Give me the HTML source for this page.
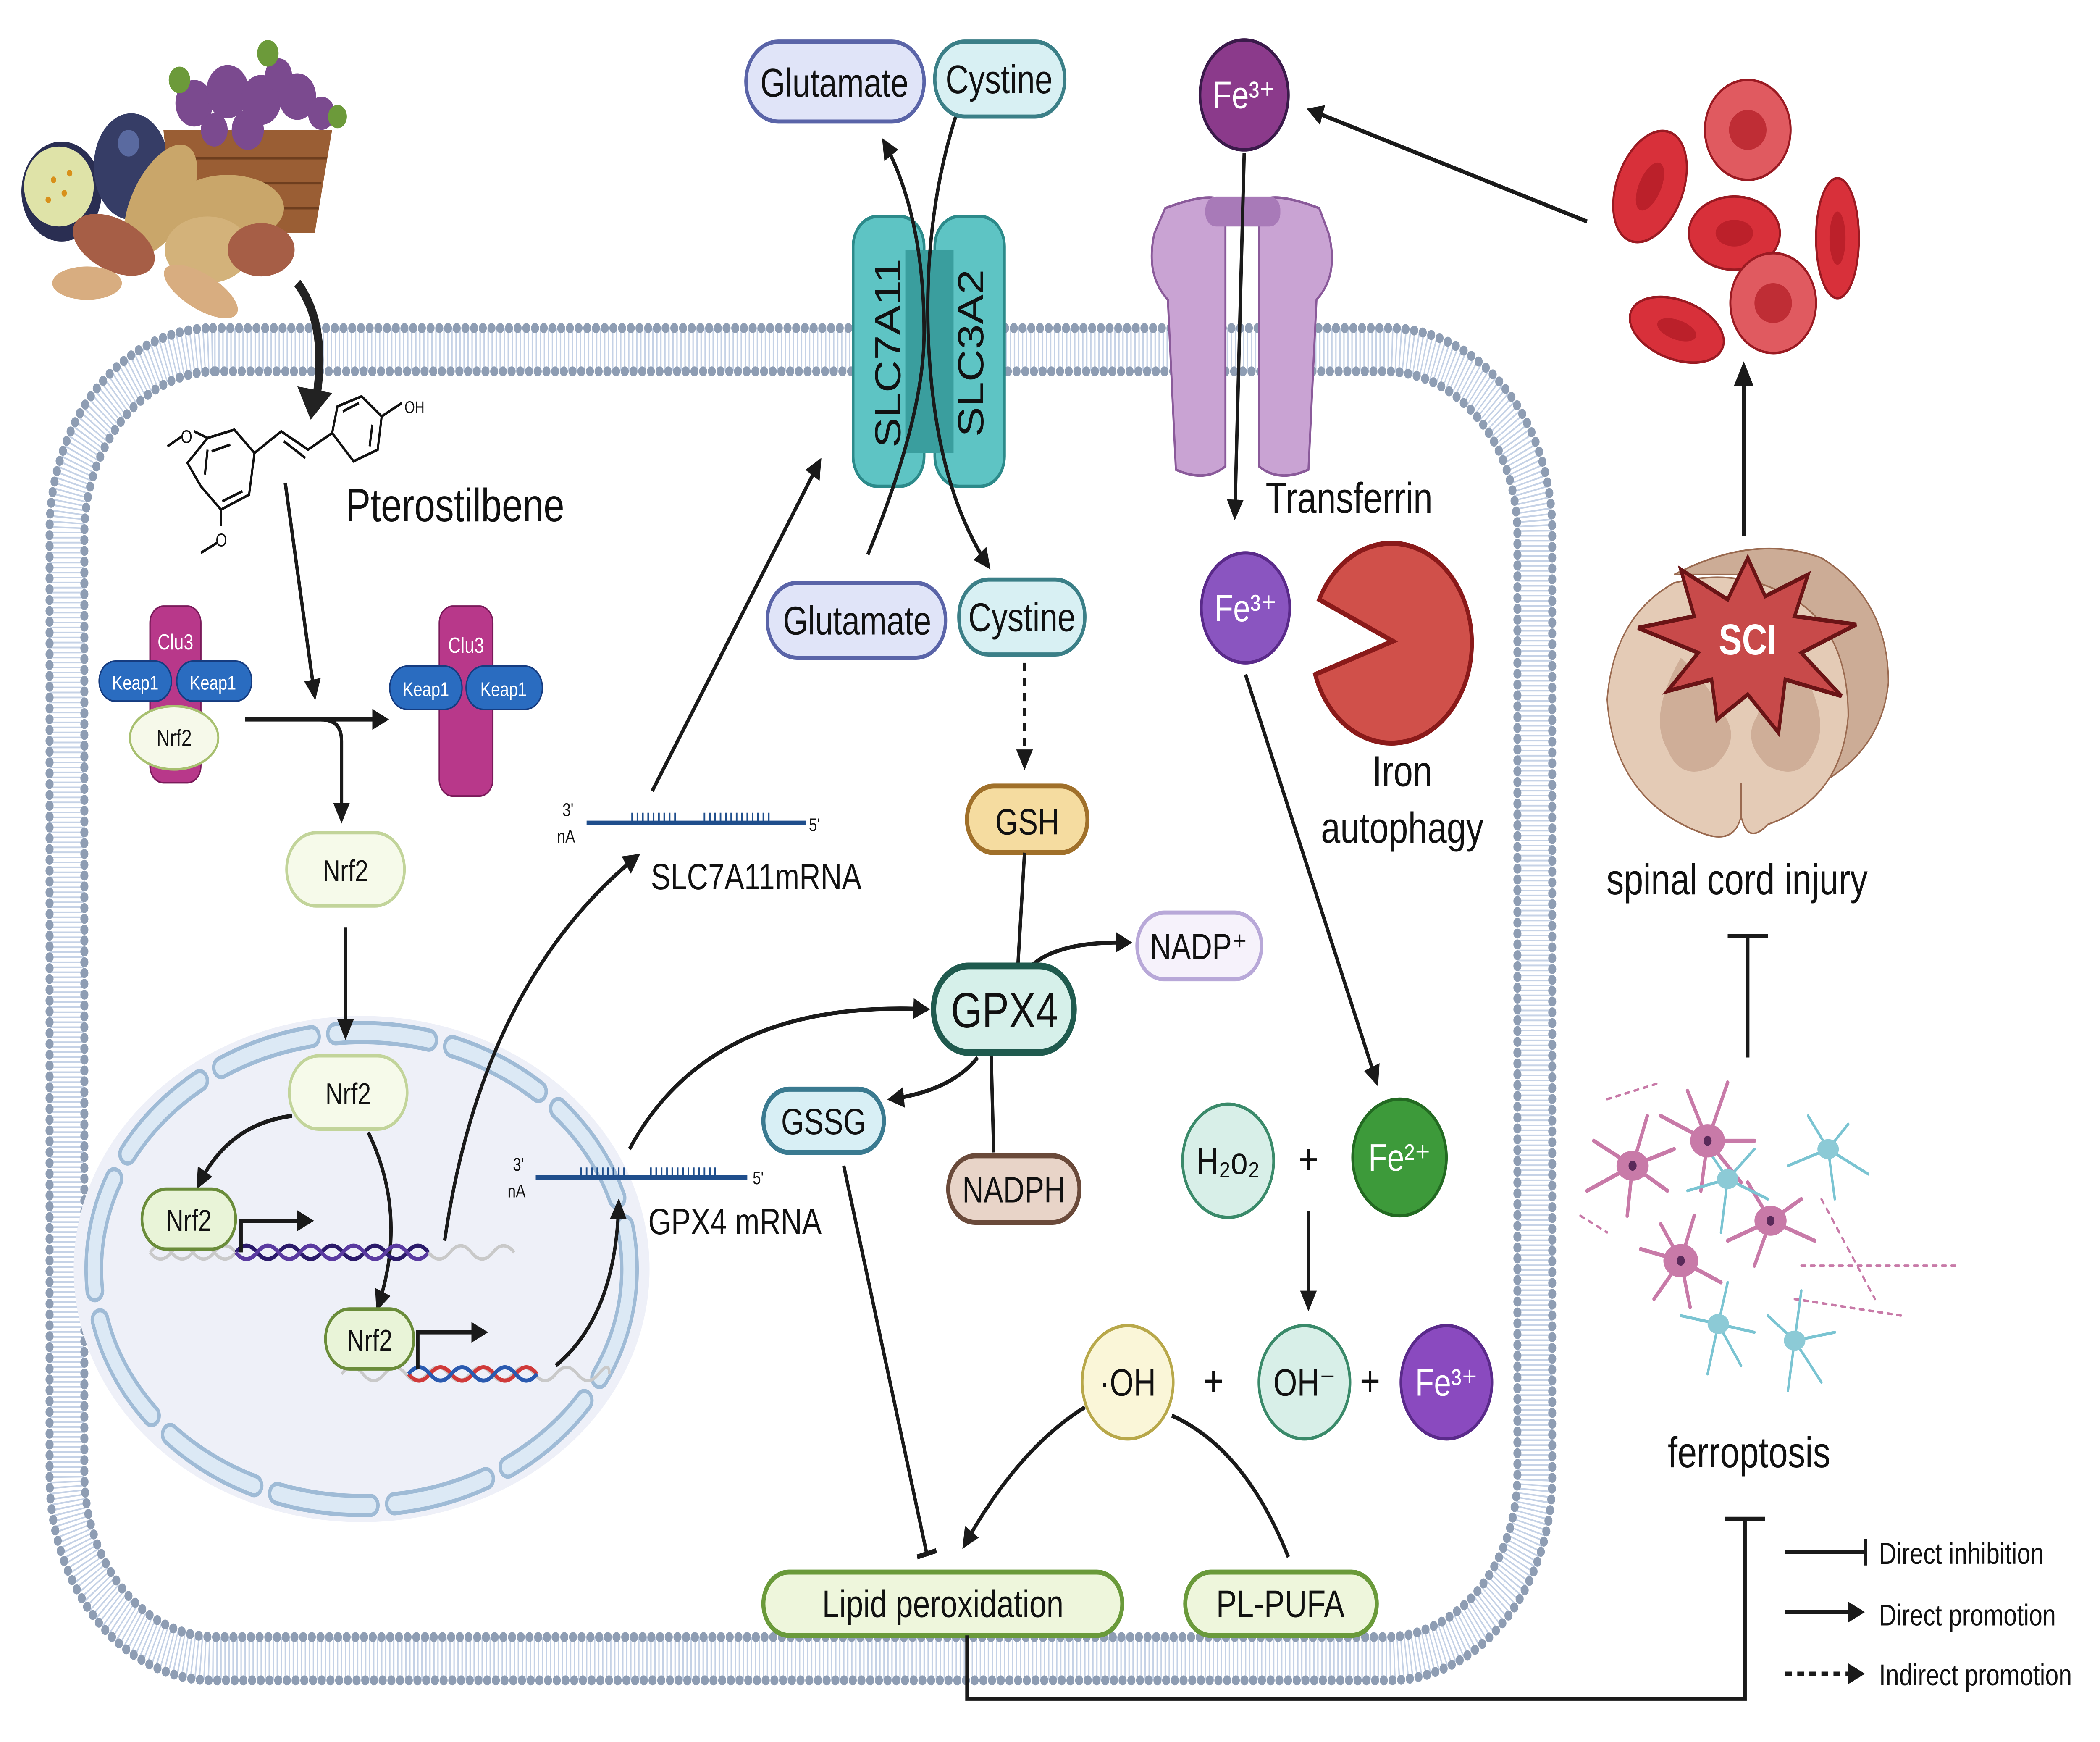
<!DOCTYPE html>
<html><head><meta charset="utf-8"><style>
html,body{margin:0;padding:0;background:#fff;width:100%;height:100%;overflow:hidden}
svg{display:block;position:fixed;left:0;top:0;width:100vw;height:100vh}
text{font-family:"Liberation Sans",sans-serif;fill:#111}
</style></head><body>
<svg viewBox="0 0 1568 1046" preserveAspectRatio="none" xmlns="http://www.w3.org/2000/svg">
<defs>
<marker id="a" viewBox="0 0 10 10" refX="8" refY="5" markerWidth="5" markerHeight="5" orient="auto-start-reverse"><path d="M0,0L10,5L0,10z" fill="#1a1a1a"/></marker>
<marker id="t" viewBox="0 0 10 10" refX="5" refY="5" markerWidth="6" markerHeight="6" orient="auto"><path d="M5,0V10" stroke="#1a1a1a" stroke-width="2"/></marker>
</defs>
<!-- membrane -->
<rect x="50" y="210" width="1096" height="786" rx="110" fill="none" stroke="#c5d2e6" stroke-width="26" stroke-dasharray="1 2"/>
<rect x="37" y="197" width="1122" height="812" rx="122" fill="none" stroke="#8e9db3" stroke-width="6" stroke-linecap="round" stroke-dasharray="0 6.5"/>
<rect x="63" y="223" width="1070" height="760" rx="98" fill="none" stroke="#8e9db3" stroke-width="6" stroke-linecap="round" stroke-dasharray="0 6.5"/>
<!-- nucleus -->
<ellipse cx="270" cy="762" rx="215" ry="152" fill="#eef0f8"/>
<ellipse cx="270" cy="762" rx="200" ry="142" fill="none" stroke="#9fbbd6" stroke-width="14" stroke-dasharray="70 18" stroke-linecap="round"/>
<ellipse cx="270" cy="762" rx="200" ry="142" fill="none" stroke="#dce9f5" stroke-width="9" stroke-dasharray="70 18" stroke-linecap="round"/>
<!-- food -->
<g>
<ellipse cx="46" cy="115" rx="30" ry="30" fill="#2a2e52"/><ellipse cx="44" cy="112" rx="26" ry="24" fill="#dfe3a8"/>
<g fill="#d8901a"><circle cx="40" cy="108" r="2"/><circle cx="48" cy="116" r="2"/><circle cx="36" cy="120" r="2"/><circle cx="52" cy="104" r="2"/></g>
<ellipse cx="98" cy="100" rx="28" ry="32" fill="#363d66"/><circle cx="96" cy="86" r="8" fill="#5a6aa0"/>
<path d="M122,78 L248,78 L235,140 L130,140z" fill="#9a5e34"/>
<path d="M126,95H244M128,110H240M130,125H238" stroke="#6e3e1e" stroke-width="1.5"/>
<g fill="#7b4a8f"><circle cx="145" cy="62" r="14"/><circle cx="170" cy="55" r="16"/><circle cx="195" cy="60" r="15"/><circle cx="222" cy="58" r="14"/><circle cx="240" cy="68" r="10"/><circle cx="185" cy="78" r="12"/><circle cx="160" cy="78" r="10"/><circle cx="208" cy="45" r="10"/></g>
<g fill="#6c9a3a"><circle cx="134" cy="48" r="8"/><circle cx="200" cy="32" r="8"/><circle cx="252" cy="70" r="7"/></g>
<ellipse cx="120" cy="120" rx="20" ry="38" transform="rotate(35 120 120)" fill="#c9a66a"/>
<ellipse cx="170" cy="125" rx="42" ry="20" fill="#c9a66a"/>
<ellipse cx="155" cy="150" rx="32" ry="20" fill="#d3b27a"/>
<ellipse cx="85" cy="147" rx="32" ry="16" transform="rotate(20 85 147)" fill="#a65e46"/>
<ellipse cx="195" cy="150" rx="25" ry="16" fill="#a65e46"/>
<ellipse cx="65" cy="170" rx="26" ry="10" fill="#d8ad80"/>
<ellipse cx="150" cy="175" rx="30" ry="11" transform="rotate(25 150 175)" fill="#d8ad80"/>
</g>
<path d="M222,170 Q245,195 236,240" fill="none" stroke="#222" stroke-width="6"/><path d="M222,232 L232,252 L248,236z" fill="#222"/>
<!-- pterostilbene -->
<g fill="none" stroke="#111" stroke-width="1.6">
<path d="M140,278 L155,263 L175,258 L190,272 L186,297 L165,306 L150,292 Z"/>
<path d="M158,271 L172,267 M181,295 L166,301 M153,285 L155,270"/>
<path d="M190,272 L210,259 L230,270 L248,260"/>
<path d="M212,265 L228,275"/>
<path d="M248,260 L252,244 L270,238 L285,250 L282,270 L264,277 Z"/>
<path d="M256,247 L268,242 M278,255 L276,268"/>
<path d="M155,263 L145,259 M136,262 L125,268"/><path d="M165,306 L165,316 M162,326 L150,332"/><path d="M285,250 L300,242"/>
</g>
<text x="135" y="266" font-size="11">O</text><text x="161" y="328" font-size="11">O</text>
<text x="302" y="248" font-size="10">OH</text>
<text x="258" y="313" font-size="28">Pterostilbene</text>
<line x1="213" y1="290" x2="235" y2="418" stroke="#1a1a1a" stroke-width="2.5" marker-end="url(#a)"/>
<!-- left complex -->
<rect x="112" y="364" width="38" height="106" rx="10" fill="#b8388a" stroke="#7a1a5a"/>
<rect x="74" y="397" width="54" height="24" rx="12" fill="#2a6cc0" stroke="#163c80"/><text x="101" y="414" font-size="12" text-anchor="middle" style="fill:#fff">Keap1</text>
<rect x="132" y="397" width="56" height="24" rx="12" fill="#2a6cc0" stroke="#163c80"/><text x="159" y="414" font-size="12" text-anchor="middle" style="fill:#fff">Keap1</text>
<text x="131" y="390" font-size="13" text-anchor="middle" style="fill:#fff">Clu3</text>
<ellipse cx="130" cy="443" rx="33" ry="19" fill="#f6f9ea" stroke="#a8c070" stroke-width="1.5"/><text x="130" y="448" font-size="14" text-anchor="middle">Nrf2</text>
<path d="M183,432 L288,432" stroke="#1a1a1a" stroke-width="2.5" marker-end="url(#a)"/>
<path d="M240,432 Q255,432 255,445 L255,492" fill="none" stroke="#1a1a1a" stroke-width="2.5" marker-end="url(#a)"/>
<rect x="328" y="364" width="40" height="114" rx="10" fill="#b8388a" stroke="#7a1a5a"/>
<text x="348" y="392" font-size="13" text-anchor="middle" style="fill:#fff">Clu3</text>
<rect x="291" y="400" width="54" height="26" rx="13" fill="#2a6cc0" stroke="#163c80"/><text x="318" y="418" font-size="12" text-anchor="middle" style="fill:#fff">Keap1</text>
<rect x="348" y="400" width="57" height="26" rx="13" fill="#2a6cc0" stroke="#163c80"/><text x="376" y="418" font-size="12" text-anchor="middle" style="fill:#fff">Keap1</text>
<!-- Nrf2 path -->
<rect x="214" y="500" width="88" height="44" rx="22" fill="#f6faea" stroke="#c2d49a" stroke-width="2"/><text x="258" y="529" font-size="18" text-anchor="middle">Nrf2</text>
<line x1="258" y1="557" x2="258" y2="622" stroke="#1a1a1a" stroke-width="2.5" marker-end="url(#a)"/>
<rect x="216" y="634" width="88" height="44" rx="22" fill="#f6faea" stroke="#c2d49a" stroke-width="2"/><text x="260" y="663" font-size="18" text-anchor="middle">Nrf2</text>
<path d="M218,670 Q170,675 148,712" fill="none" stroke="#1a1a1a" stroke-width="2.5" marker-end="url(#a)"/>
<path d="M275,680 Q305,730 282,785" fill="none" stroke="#1a1a1a" stroke-width="2.5" marker-end="url(#a)"/>
<!-- DNA1 -->
<g fill="none" stroke-width="2">
<path d="M112,752 Q120,744 128,752 T144,752 T160,752 T176,752 T192,752 T208,752 T224,752 T240,752 T256,752 T272,752 T288,752 T304,752 T320,752 T336,752 T352,752 T368,752 T384,752" stroke="#c9c9c9"/>
<path d="M112,752 Q120,760 128,752 T144,752 T160,752 T176,752" stroke="#c9c9c9"/>
<path d="M176,752 Q184,744 192,752 T208,752 T224,752 T240,752 T256,752 T272,752 T288,752 T304,752 T320,752" stroke="#2b1a6a" stroke-width="2.5"/>
<path d="M176,752 Q184,760 192,752 T208,752 T224,752 T240,752 T256,752 T272,752 T288,752 T304,752 T320,752" stroke="#5a3aa0" stroke-width="2.5"/>
<path d="M320,752 Q328,760 336,752 T352,752 T368,752 T384,752" stroke="#c9c9c9"/>
</g>
<rect x="106" y="714" width="70" height="36" rx="18" fill="#e9f4d8" stroke="#6a8c3a" stroke-width="2"/><text x="141" y="739" font-size="18" text-anchor="middle">Nrf2</text>
<path d="M180,752 L180,733 L232,733" fill="none" stroke="#1a1a1a" stroke-width="2.5" marker-end="url(#a)"/>
<!-- DNA2 -->
<g fill="none" stroke-width="2">
<path d="M255,825 Q263,817 271,825 T287,825 T303,825 T319,825 T335,825 T351,825 T367,825 T383,825 T399,825 T415,825 T431,825 T447,825 T455,825" stroke="#c9c9c9"/>
<path d="M305,825 Q313,833 321,825 T337,825 T353,825 T369,825 T385,825 T401,825" stroke="#d03a3a" stroke-width="2.5"/>
<path d="M305,825 Q313,817 321,825 T337,825 T353,825 T369,825 T385,825 T401,825" stroke="#2a5ab0" stroke-width="2.5"/>
</g>
<rect x="243" y="786" width="66" height="36" rx="18" fill="#e9f4d8" stroke="#6a8c3a" stroke-width="2"/><text x="276" y="811" font-size="18" text-anchor="middle">Nrf2</text>
<path d="M312,822 L312,800 L362,800" fill="none" stroke="#1a1a1a" stroke-width="2.5" marker-end="url(#a)"/>
<!-- mRNA arrows -->
<path d="M332,745 Q360,590 476,514" fill="none" stroke="#1a1a1a" stroke-width="2.5" marker-end="url(#a)"/>
<line x1="487" y1="475" x2="612" y2="277" stroke="#1a1a1a" stroke-width="2.5" marker-end="url(#a)"/>
<path d="M415,820 Q460,790 462,722" fill="none" stroke="#1a1a1a" stroke-width="2.5" marker-end="url(#a)"/>
<path d="M470,690 Q530,600 692,606" fill="none" stroke="#1a1a1a" stroke-width="2.5" marker-end="url(#a)"/>
<!-- mRNA -->
<line x1="438" y1="494" x2="602" y2="494" stroke="#1f4e8c" stroke-width="2.5"/>
<path d="M472,494V488M476,494V488M480,494V488M484,494V488M488,494V488M492,494V488M496,494V488M500,494V488M504,494V488M526,494V488M530,494V488M534,494V488M538,494V488M542,494V488M546,494V488M550,494V488M554,494V488M558,494V488M562,494V488M566,494V488M570,494V488M574,494V488" stroke="#1f4e8c" stroke-width="1.2"/>
<text x="420" y="490" font-size="11">3'</text><text x="416" y="506" font-size="11">nA</text><text x="604" y="499" font-size="11">5'</text>
<text x="486" y="534" font-size="22">SLC7A11mRNA</text>
<line x1="400" y1="707" x2="558" y2="707" stroke="#1f4e8c" stroke-width="2.5"/>
<path d="M434,707V701M438,707V701M442,707V701M446,707V701M450,707V701M454,707V701M458,707V701M462,707V701M466,707V701M486,707V701M490,707V701M494,707V701M498,707V701M502,707V701M506,707V701M510,707V701M514,707V701M518,707V701M522,707V701M526,707V701M530,707V701M534,707V701" stroke="#1f4e8c" stroke-width="1.2"/>
<text x="383" y="703" font-size="11">3'</text><text x="379" y="719" font-size="11">nA</text><text x="562" y="711" font-size="11">5'</text>
<text x="484" y="741" font-size="22">GPX4 mRNA</text>
<!-- transporter -->
<rect x="637" y="130" width="53" height="162" rx="18" fill="#5ec4c4" stroke="#2c8a8a" stroke-width="2"/>
<rect x="698" y="130" width="52" height="162" rx="18" fill="#5ec4c4" stroke="#2c8a8a" stroke-width="2"/>
<rect x="676" y="150" width="36" height="122" fill="#3a9e9e"/>
<text transform="translate(665,212) rotate(-90)" font-size="27" text-anchor="middle" dominant-baseline="middle">SLC7A11</text>
<text transform="translate(727,212) rotate(-90)" font-size="27" text-anchor="middle" dominant-baseline="middle">SLC3A2</text>
<path d="M648,333 Q690,250 690,200 Q690,130 660,85" fill="none" stroke="#1a1a1a" stroke-width="2.5" marker-end="url(#a)"/>
<path d="M720,55 Q690,120 693,200 Q697,290 738,340" fill="none" stroke="#1a1a1a" stroke-width="2.5" marker-end="url(#a)"/>
<rect x="557" y="25" width="133" height="48" rx="24" fill="#e0e4f8" stroke="#5a64a8" stroke-width="2.5"/><text x="623" y="58" font-size="24" text-anchor="middle">Glutamate</text>
<rect x="698" y="25" width="97" height="45" rx="22" fill="#d8f0f3" stroke="#3b7f87" stroke-width="2.5"/><text x="746" y="56" font-size="24" text-anchor="middle">Cystine</text>
<rect x="573" y="350" width="133" height="45" rx="22" fill="#e0e4f8" stroke="#5a64a8" stroke-width="2.5"/><text x="640" y="381" font-size="24" text-anchor="middle">Glutamate</text>
<rect x="716" y="348" width="94" height="45" rx="22" fill="#d8f0f3" stroke="#3b7f87" stroke-width="2.5"/><text x="763" y="379" font-size="24" text-anchor="middle">Cystine</text>
<line x1="765" y1="398" x2="765" y2="460" stroke="#1a1a1a" stroke-width="2.5" stroke-dasharray="5 4" marker-end="url(#a)"/>
<rect x="722" y="472" width="90" height="40" rx="20" fill="#f5dca0" stroke="#a0702a" stroke-width="3"/><text x="767" y="501" font-size="22" text-anchor="middle">GSH</text>
<line x1="765" y1="512" x2="760" y2="580" stroke="#1a1a1a" stroke-width="2.5"/>
<path d="M770,580 Q790,565 843,566" fill="none" stroke="#1a1a1a" stroke-width="2.5" marker-end="url(#a)"/>
<rect x="849" y="548" width="93" height="40" rx="20" fill="#f6f2fb" stroke="#b8a8d8" stroke-width="2.5"/><text x="895" y="576" font-size="22" text-anchor="middle">NADP⁺</text>
<line x1="740" y1="632" x2="742" y2="692" stroke="#1a1a1a" stroke-width="2.5"/>
<rect x="708" y="694" width="98" height="40" rx="20" fill="#e8d4c8" stroke="#6a4a3a" stroke-width="3"/><text x="757" y="722" font-size="22" text-anchor="middle">NADPH</text>
<path d="M730,635 Q710,655 665,660" fill="none" stroke="#1a1a1a" stroke-width="2.5" marker-end="url(#a)"/>
<rect x="697" y="580" width="105" height="52" rx="26" fill="#d6f0ea" stroke="#1f5a4e" stroke-width="4"/><text x="750" y="617" font-size="30" text-anchor="middle">GPX4</text>
<rect x="570" y="654" width="90" height="38" rx="19" fill="#d8eff5" stroke="#3a7a90" stroke-width="3"/><text x="615" y="681" font-size="22" text-anchor="middle">GSSG</text>
<line x1="630" y1="700" x2="692" y2="933" stroke="#1a1a1a" stroke-width="2.5" marker-end="url(#t)"/>
<!-- lipid -->
<path d="M810,845 Q760,870 720,928" fill="none" stroke="#1a1a1a" stroke-width="2.5" marker-end="url(#a)"/>
<path d="M962,935 Q930,870 875,850" fill="none" stroke="#1a1a1a" stroke-width="2.5"/>
<rect x="570" y="944" width="268" height="38" rx="19" fill="#eef6dc" stroke="#6a9a3a" stroke-width="3"/><text x="704" y="971" font-size="23" text-anchor="middle">Lipid peroxidation</text>
<rect x="885" y="944" width="143" height="38" rx="19" fill="#eef6dc" stroke="#6a9a3a" stroke-width="3"/><text x="956" y="971" font-size="23" text-anchor="middle">PL-PUFA</text>
<circle cx="842" cy="830" r="34" fill="#faf6d8" stroke="#b8a84a" stroke-width="2"/><text x="842" y="838" font-size="23" text-anchor="middle">·OH</text>
<text x="906" y="838" font-size="26" text-anchor="middle">+</text>
<circle cx="974" cy="830" r="34" fill="#d8efe8" stroke="#3a8a6a" stroke-width="2"/><text x="974" y="838" font-size="23" text-anchor="middle">OH⁻</text>
<text x="1023" y="838" font-size="26" text-anchor="middle">+</text>
<circle cx="1080" cy="830" r="34" fill="#8a4abf" stroke="#5a2a8a" stroke-width="2"/><text x="1080" y="838" font-size="23" text-anchor="middle" style="fill:#fff">Fe³⁺</text>
<circle cx="917" cy="697" r="34" fill="#d8efe8" stroke="#3a8a6a" stroke-width="2"/><text x="917" y="705" font-size="23" text-anchor="middle">H₂o₂</text>
<text x="977" y="705" font-size="26" text-anchor="middle">+</text>
<circle cx="1045" cy="695" r="35" fill="#3d9a3a" stroke="#236a22" stroke-width="2"/><text x="1045" y="703" font-size="23" text-anchor="middle" style="fill:#fff">Fe²⁺</text>
<line x1="977" y1="727" x2="977" y2="785" stroke="#1a1a1a" stroke-width="2.5" marker-end="url(#a)"/>
<!-- transferrin -->
<path d="M870,125 Q920,110 915,130 L915,280 Q900,290 878,282 L872,180 Q855,165 862,140z" fill="#c9a3d3" stroke="#8a5a9a" stroke-width="1.5"/>
<path d="M985,125 Q935,110 940,130 L940,280 Q955,290 977,282 L983,180 Q1000,165 992,140z" fill="#c9a3d3" stroke="#8a5a9a" stroke-width="1.5"/>
<rect x="900" y="118" width="56" height="18" rx="8" fill="#a87ab8"/>
<circle cx="929" cy="57" r="33" fill="#8b3a8b" stroke="#3a1a4a" stroke-width="2"/><text x="929" y="65" font-size="23" text-anchor="middle" style="fill:#fff">Fe³⁺</text>
<line x1="929" y1="92" x2="922" y2="310" stroke="#1a1a1a" stroke-width="2.5" marker-end="url(#a)"/>
<text x="945" y="308" font-size="26">Transferrin</text>
<circle cx="930" cy="365" r="33" fill="#8a55c0" stroke="#5a2a8a" stroke-width="2"/><text x="930" y="373" font-size="23" text-anchor="middle" style="fill:#fff">Fe³⁺</text>
<line x1="930" y1="405" x2="1028" y2="650" stroke="#1a1a1a" stroke-width="2.5" marker-end="url(#a)"/>
<path d="M1040,385 L985,360 A60,60 0 1,1 982,405 z" fill="#d0504a" stroke="#8a1a1a" stroke-width="3"/>
<text x="1047" y="472" font-size="26" text-anchor="middle">Iron</text>
<text x="1047" y="506" font-size="26" text-anchor="middle">autophagy</text>
<!-- RBC -->
<line x1="1185" y1="133" x2="978" y2="66" stroke="#1a1a1a" stroke-width="2.5" marker-end="url(#a)"/>
<g stroke="#9a1a22" stroke-width="1.5">
<ellipse cx="1305" cy="78" rx="32" ry="30" fill="#e05a60"/><ellipse cx="1232" cy="112" rx="24" ry="36" transform="rotate(30 1232 112)" fill="#d8303a"/>
<ellipse cx="1295" cy="140" rx="34" ry="22" fill="#d8303a"/><ellipse cx="1372" cy="143" rx="16" ry="36" fill="#d8303a"/>
<ellipse cx="1324" cy="182" rx="32" ry="30" fill="#e05a60"/><ellipse cx="1252" cy="198" rx="36" ry="18" transform="rotate(15 1252 198)" fill="#d8303a"/>
</g>
<g fill="#b01a24" opacity="0.7"><ellipse cx="1305" cy="78" rx="14" ry="12"/><ellipse cx="1232" cy="112" rx="8" ry="16" transform="rotate(30 1232 112)"/><ellipse cx="1295" cy="140" rx="14" ry="8"/><ellipse cx="1372" cy="143" rx="6" ry="16"/><ellipse cx="1324" cy="182" rx="14" ry="12"/><ellipse cx="1252" cy="198" rx="15" ry="6" transform="rotate(15 1252 198)"/></g>
<line x1="1302" y1="322" x2="1302" y2="220" stroke="#1a1a1a" stroke-width="3" marker-end="url(#a)"/>
<!-- spinal cord -->
<path d="M1250,345 Q1310,320 1360,335 Q1410,360 1410,410 Q1405,450 1360,470 L1330,480 L1300,345z" fill="#ccac96" stroke="#9a6a50" stroke-width="1"/>
<path d="M1200,420 Q1205,370 1250,350 Q1300,340 1340,360 Q1380,380 1380,430 Q1375,480 1320,495 Q1305,508 1300,490 Q1295,508 1270,500 Q1205,480 1200,420z" fill="#e4cbb6" stroke="#9a6a50" stroke-width="1"/>
<path d="M1255,395 Q1275,410 1288,430 Q1300,445 1280,460 Q1255,470 1245,450 Q1230,430 1255,395z M1340,395 Q1320,410 1312,430 Q1300,445 1320,460 Q1345,470 1355,450 Q1368,430 1340,395z" fill="#cfae98"/>
<path d="M1300,490 L1300,470" stroke="#9a6a50" stroke-width="1.5"/>
<path d="M1305,335 L1318,358 L1350,345 L1340,370 L1386,375 L1345,392 L1375,418 L1333,408 L1328,440 L1305,417 L1282,432 L1278,408 L1245,415 L1268,392 L1223,377 L1265,370 L1255,342 L1290,360z" fill="#c84a4a" stroke="#6a1416" stroke-width="2.5" stroke-linejoin="miter"/>
<text x="1305" y="393" font-size="26" font-weight="bold" text-anchor="middle" style="fill:#fff">SCI</text>
<text x="1297" y="537" font-size="26" text-anchor="middle">spinal cord injury</text>
<line x1="1305" y1="635" x2="1305" y2="562" stroke="#1a1a1a" stroke-width="2.5"/><line x1="1290" y1="562" x2="1320" y2="562" stroke="#1a1a1a" stroke-width="2.5"/>
<!-- ferroptosis cells -->
<g fill="none" stroke-linecap="round">
<g stroke="#c87aa8" stroke-width="2.5">
<path d="M1219,700 L1190,685 M1219,700 L1185,715 M1219,700 L1230,670 M1219,700 L1250,690 M1219,700 L1215,730 M1219,700 L1245,715"/>
<path d="M1275,685 L1260,655 M1275,685 L1290,650 M1275,685 L1240,670 M1275,685 L1310,685 M1275,685 L1270,715 M1275,685 L1300,710"/>
<path d="M1322,733 L1305,710 M1322,733 L1345,720 M1322,733 L1355,745 M1322,733 L1310,760 M1322,733 L1290,745"/>
<path d="M1255,757 L1225,750 M1255,757 L1235,780 M1255,757 L1262,785 M1255,757 L1285,770 M1255,757 L1265,730 M1255,757 L1240,735"/>
</g>
<g stroke="#c87aa8" stroke-width="1.5" stroke-dasharray="3 4">
<path d="M1345,760 L1460,760 M1340,780 L1420,790 M1200,660 L1240,650 M1180,730 L1200,740 M1360,720 L1400,780"/>
</g>
<g stroke="#7ac4d2" stroke-width="1.8">
<path d="M1290,708 L1275,690 M1290,708 L1310,690 M1290,708 L1320,720 M1290,708 L1285,740 M1290,708 L1260,715"/>
<path d="M1365,690 L1350,670 M1365,690 L1380,675 M1365,690 L1395,705 M1365,690 L1370,720 M1365,690 L1335,700"/>
<path d="M1283,795 L1255,790 M1283,795 L1290,770 M1283,795 L1310,800 M1283,795 L1275,825 M1283,795 L1300,820"/>
<path d="M1340,805 L1320,790 M1340,805 L1345,775 M1340,805 L1370,800 M1340,805 L1335,835 M1340,805 L1360,830"/>
</g>
</g>
<g fill="#c87aa8"><ellipse cx="1219" cy="700" rx="12" ry="9"/><ellipse cx="1275" cy="685" rx="13" ry="10"/><ellipse cx="1322" cy="733" rx="12" ry="9"/><ellipse cx="1255" cy="757" rx="13" ry="10"/></g>
<g fill="#5a2a5a"><circle cx="1219" cy="700" r="3"/><circle cx="1275" cy="685" r="3"/><circle cx="1322" cy="733" r="3"/><circle cx="1255" cy="757" r="3"/></g>
<g fill="#8ccad6"><ellipse cx="1290" cy="708" rx="8" ry="6"/><ellipse cx="1365" cy="690" rx="8" ry="6"/><ellipse cx="1283" cy="795" rx="8" ry="6"/><ellipse cx="1340" cy="805" rx="8" ry="6"/></g>
<text x="1306" y="881" font-size="26" text-anchor="middle">ferroptosis</text>
<!-- bottom connector -->
<path d="M722,982 L722,1020 L1303,1020 L1303,912" fill="none" stroke="#1a1a1a" stroke-width="2.5"/><line x1="1288" y1="912" x2="1318" y2="912" stroke="#1a1a1a" stroke-width="2.5"/>
<!-- legend -->
<line x1="1333" y1="932" x2="1393" y2="932" stroke="#1a1a1a" stroke-width="2.5"/><line x1="1393" y1="924" x2="1393" y2="940" stroke="#1a1a1a" stroke-width="2.5"/>
<text x="1403" y="939" font-size="18">Direct inhibition</text>
<line x1="1333" y1="968" x2="1390" y2="968" stroke="#1a1a1a" stroke-width="2.5" marker-end="url(#a)"/>
<text x="1403" y="976" font-size="18">Direct promotion</text>
<line x1="1333" y1="1005" x2="1390" y2="1005" stroke="#1a1a1a" stroke-width="2.5" stroke-dasharray="5 4" marker-end="url(#a)"/>
<text x="1403" y="1012" font-size="18">Indirect promotion</text>
</svg>
</body></html>
